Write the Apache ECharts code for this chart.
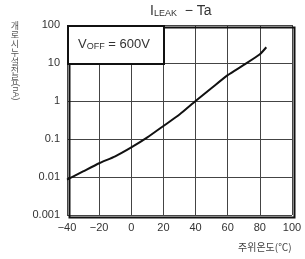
<!DOCTYPE html>
<html>
<head>
<meta charset="UTF-8">
<title>ILEAK - Ta</title>
<script src="https://cdn.jsdelivr.net/npm/echarts@6/dist/echarts.min.js"></script>
<style>
  body{margin:0;padding:0;background:#fff;}
  #chart{width:305px;height:259px;}
</style>
</head>
<body>
<div id="chart"></div>
<script>
// 주위온도 (℃) 와 누설전류 (nA)
var temps = [-40, -30, -20, -10, 0, 10, 20, 30, 40, 50, 60, 70, 80, 84];
var leak  = [0.0085, 0.014, 0.023, 0.035, 0.06, 0.11, 0.22, 0.44, 1.0, 2.2, 4.8, 8.9, 17, 26];
var yTicks = [0.001, 0.01, 0.1, 1, 10, 100];

var chart = echarts.init(document.getElementById('chart'));
var font = 'Liberation Sans, Arial, sans-serif';

var option = {
  animation: false,
  grid: {left: 67, right: 13, top: 25, bottom: 44},
  xAxis: {
    type: 'value', min: -40, max: 100, interval: 20,
    axisLine: {show: false},
    axisTick: {show: false},
    axisLabel: {color: '#333', fontSize: 11, fontFamily: font, margin: 7,
      formatter: function (v) { return v < 0 ? '−' + Math.abs(v) : '' + v; }},
    splitLine: {lineStyle: {color: '#444', width: 1}}
  },
  yAxis: {
    type: 'log', logBase: 10, min: 0.001, max: 100,
    axisLine: {show: false},
    axisTick: {show: false},
    axisLabel: {color: '#333', fontSize: 11, fontFamily: font, margin: 7,
      formatter: function (v) {
        var best = yTicks[0];
        yTicks.forEach(function (t) { if (Math.abs(Math.log10(t) - Math.log10(v)) < Math.abs(Math.log10(best) - Math.log10(v))) best = t; });
        return String(best);
      }},
    splitLine: {lineStyle: {color: '#444', width: 1}}
  },
  series: [{
    type: 'line',
    data: temps.map(function (t, i) { return [t, leak[i]]; }),
    smooth: 0.2,
    symbol: 'none',
    lineStyle: {color: '#111', width: 2}
  }],
  graphic: [
    {type: 'text', left: 150, top: 4, z: 12,
      style: {text: '{i|I}{s|LEAK}{i|  − Ta}', rich: {
        i: {fontSize: 14, fill: '#333', fontFamily: font},
        s: {fontSize: 9, fill: '#333', fontFamily: font, padding: [6, 0, 0, 0]}
      }}},
    {type: 'rect', left: 67, top: 25, shape: {width: 225, height: 190},
      style: {fill: 'none', stroke: '#111', lineWidth: 2}, z: 10},
    {type: 'rect', left: 67, top: 25, shape: {width: 96, height: 38},
      style: {fill: '#fff', stroke: '#111', lineWidth: 2}, z: 11},
    {type: 'text', left: 78, top: 38, z: 12,
      style: {text: '{v|V}{s|OFF}{v| = 600V}', rich: {
        v: {fontSize: 13, fill: '#333', fontFamily: font},
        s: {fontSize: 9, fill: '#333', fontFamily: font, padding: [5, 0, 0, 0]}
      }}},
    {type: 'text', x: 15, y: 21, z: 12,
      style: {text: '개\n로\n시\n누\n설\n전\n류', align: 'center', verticalAlign: 'top',
        fontSize: 9, lineHeight: 9, fill: '#555', fontFamily: 'Noto Sans CJK KR'}},
    {type: 'text', x: 15, y: 92, rotation: -Math.PI / 2, z: 12,
      style: {text: '(nA)', align: 'center', verticalAlign: 'middle',
        fontSize: 9, fill: '#555', fontFamily: font}},
    {type: 'text', left: 238, top: 242, z: 12,
      style: {text: '주위온도(℃)', fontSize: 10, fill: '#444', fontFamily: 'Noto Sans CJK KR'}}
  ]
};
chart.setOption(option);
</script>
</body>
</html>
